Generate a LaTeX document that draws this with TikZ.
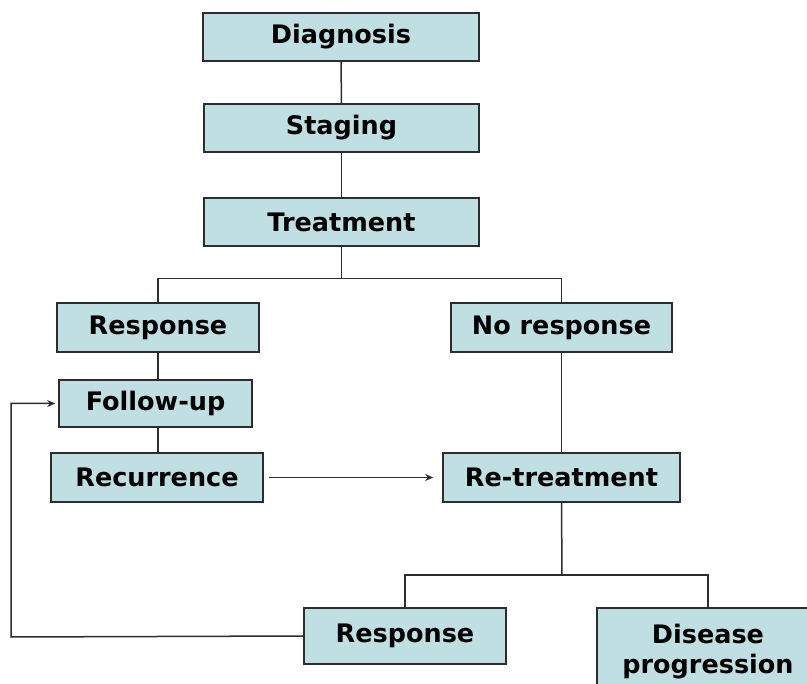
\documentclass[tikz,border=0pt]{standalone}
\usepackage{fontspec}
\setmainfont{DejaVu Sans}
\usetikzlibrary{arrows.meta}
\definecolor{boxfill}{RGB}{191,223,227}
\definecolor{linecol}{RGB}{45,45,45}
\begin{document}
\begin{tikzpicture}[x=1pt,y=1pt,
  stepbox/.style={draw=linecol, line width=1.6pt, fill=boxfill, inner sep=0pt,
    font=\fontsize{25.5}{30}\selectfont\bfseries, align=center},
  conn/.style={draw=linecol, line width=1.5pt},
  arr/.style={conn, -{Stealth[length=8pt,width=7pt]}}]
\useasboundingbox (0,0) rectangle (807,-684);
\clip (0,0) rectangle (807,-684);
\node[stepbox, minimum width=276pt, minimum height=48pt] (diag) at (341,-37) {Diagnosis};
\node[stepbox, minimum width=275pt, minimum height=48pt] (stag) at (341.5,-128) {Staging};
\node[stepbox, minimum width=275pt, minimum height=48pt] (treat) at (341.5,-222) {Treatment};
\node[stepbox, minimum width=202pt, minimum height=49pt] (resp) at (158,-327.5) {Response};
\node[stepbox, minimum width=193pt, minimum height=47pt] (follow) at (155.5,-403.5) {Follow-up};
\node[stepbox, minimum width=212pt, minimum height=49pt] (recur) at (157,-477.5) {Recurrence};
\node[stepbox, minimum width=221pt, minimum height=49pt] (noresp) at (561.5,-327.5) {No response};
\node[stepbox, minimum width=237pt, minimum height=49pt] (retreat) at (561.5,-477.5) {Re-treatment};
\node[stepbox, minimum width=202pt, minimum height=56pt] (resp2) at (405,-636) {Response};
\node[stepbox, minimum width=222pt, minimum height=88pt] (prog) at (708,-652) {Disease\\progression};
\coordinate (br1) at (341.5,-278.5);
\coordinate (br2) at (562,-575);
\coordinate (fb) at (11,-637);
\draw[conn] (diag) -- (stag);
\draw[conn] (stag) -- (treat);
\draw[conn] (treat) -- (br1);
\draw[conn] (br1) -| (resp.north);
\draw[conn] (br1) -| (noresp.north);
\draw[conn] (resp.south) -- (resp.south |- follow.north);
\draw[conn] (follow.south -| resp.south) -- (resp.south |- recur.north);
\draw[arr, shorten <=5pt, shorten >=9pt] (recur.east) -- (retreat.west);
\draw[conn] (noresp.south) -- (retreat.north);
\draw[conn] (retreat.south) -- (br2);
\draw[conn] (br2) -| (resp2.north);
\draw[conn] (br2) -| (prog.north);
\draw[arr, shorten >=3pt] (resp2.west) -- (fb) |- (follow.west);
\end{tikzpicture}
\end{document}
